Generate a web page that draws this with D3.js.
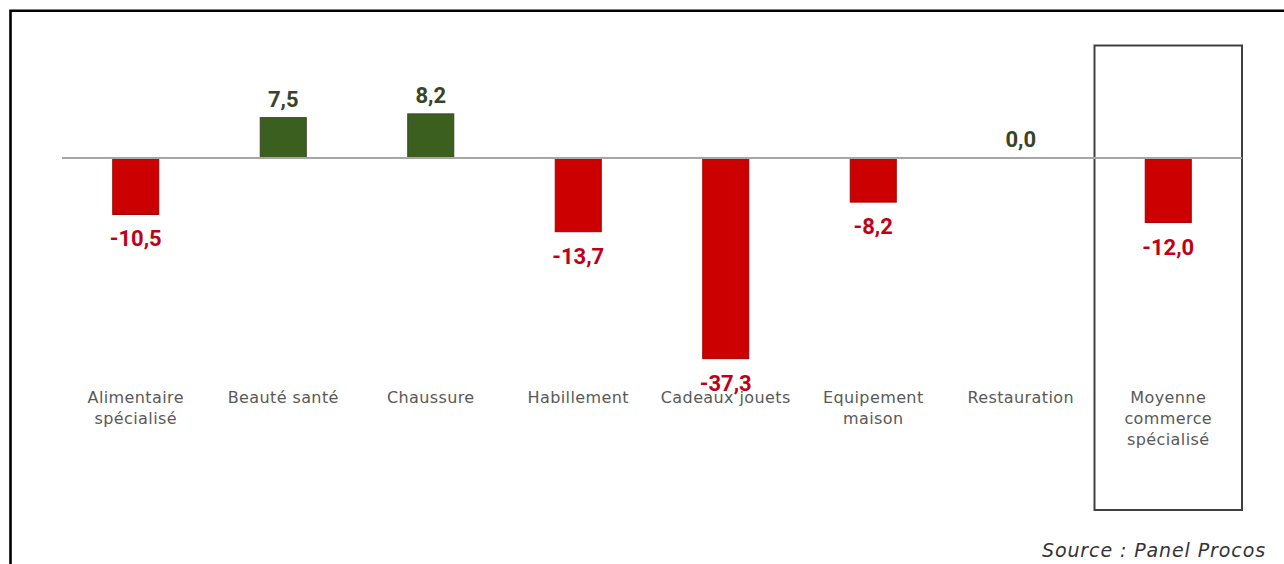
<!DOCTYPE html>
<html>
<head>
<meta charset="utf-8">
<script src="https://cdn.jsdelivr.net/npm/d3@7"></script>
<style>
  html, body { margin: 0; padding: 0; background: #fff; }
  svg { display: block; }
</style>
</head>
<body>
<svg id="chart" width="1284" height="564"></svg>
<script>
// Évolution par secteur (%)
const categories = [
  "Alimentaire spécialisé",
  "Beauté santé",
  "Chaussure",
  "Habillement",
  "Cadeaux jouets",
  "Equipement maison",
  "Restauration",
  "Moyenne commerce spécialisé"
];
const categoryLines = [
  ["Alimentaire", "spécialisé"],
  ["Beauté santé"],
  ["Chaussure"],
  ["Habillement"],
  ["Cadeaux jouets"],
  ["Equipement", "maison"],
  ["Restauration"],
  ["Moyenne", "commerce", "spécialisé"]
];
const values = [-10.5, 7.5, 8.2, -13.7, -37.3, -8.2, 0.0, -12.0];
const highlighted = "Moyenne commerce spécialisé";
const sourceText = "Source : Panel Procos";

const svg = d3.select("#chart");

const x = d3.scaleBand().domain(categories).range([62, 1242]).padding(0);
const y = d3.scaleLinear().domain([-40, 20]).range([373.2, 50.4]);
const barW = x.bandwidth() * 0.312;
const fmt = v => d3.format(".1f")(v).replace(".", ",").replace("−", "-");
const data = values.map((v, i) => ({ cat: categories[i], v }));

// outer frame (top and left edges)
svg.append("path")
  .attr("d", "M10.5,1000 L10.5,10.8 L1300,10.8")
  .attr("fill", "none").attr("stroke", "#000").attr("stroke-width", 2.6);

// highlight box around the average
svg.append("rect")
  .attr("x", x(highlighted)).attr("y", 45.5)
  .attr("width", x.bandwidth()).attr("height", 464.5)
  .attr("fill", "none").attr("stroke", "#404040").attr("stroke-width", 2);

// bars
svg.append("g").selectAll("rect")
  .data(data.filter(d => d.v !== 0))
  .join("rect")
  .attr("x", d => x(d.cat) + x.bandwidth() / 2 - barW / 2)
  .attr("y", d => y(Math.max(0, d.v)))
  .attr("width", barW)
  .attr("height", d => Math.abs(y(d.v) - y(0)))
  .attr("fill", d => d.v < 0 ? "#cc0000" : "#3b5f1e")
  .attr("stroke", d => d.v < 0 ? "#a30000" : "#3a4424")
  .attr("stroke-width", 1);

// zero line
svg.append("line")
  .attr("x1", 62).attr("x2", 1242)
  .attr("y1", y(0)).attr("y2", y(0))
  .attr("stroke", "#a6a6a6").attr("stroke-width", 2);

// value labels
svg.append("g").selectAll("text")
  .data(data)
  .join("text")
  .attr("x", d => x(d.cat) + x.bandwidth() / 2)
  .attr("y", d => d.v < 0 ? y(d.v) + 32 : y(d.v) - 11)
  .attr("text-anchor", "middle")
  .attr("font-family", "Roboto, 'Liberation Sans', sans-serif")
  .attr("font-weight", "bold")
  .attr("font-size", 22)
  .attr("fill", d => d.v < 0 ? "#c00018" : "#3a4424")
  .text(d => fmt(d.v));

// category labels
const catG = svg.append("g")
  .attr("font-family", "'DejaVu Sans', sans-serif")
  .attr("font-size", 16)
  .attr("letter-spacing", 0.4)
  .attr("fill", "#595959");
categories.forEach((c, i) => {
  const cx = x(c) + x.bandwidth() / 2;
  const t = catG.append("text")
    .attr("x", cx)
    .attr("y", 403)
    .attr("text-anchor", "middle");
  categoryLines[i].forEach((line, j) => {
    t.append("tspan")
      .attr("x", cx)
      .attr("dy", j === 0 ? 0 : 21)
      .text(line);
  });
});

// source
svg.append("text")
  .attr("x", 1266).attr("y", 557)
  .attr("text-anchor", "end")
  .attr("font-family", "'DejaVu Sans', sans-serif")
  .attr("font-style", "italic")
  .attr("font-size", 19)
  .attr("letter-spacing", 0.9)
  .attr("fill", "#333")
  .text(sourceText);
</script>
</body>
</html>
